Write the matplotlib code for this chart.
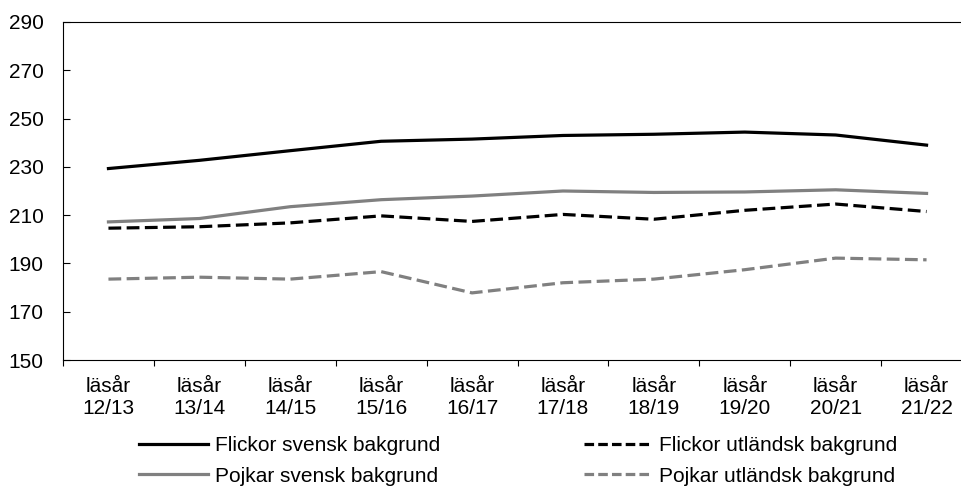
import numpy as np
import matplotlib
matplotlib.use("Agg")
import matplotlib.pyplot as plt

plt.rcParams['font.family'] = ['Liberation Sans', 'DejaVu Sans']

# läsår och medelvärden per grupp, avlästa ur originalbilden
lasar = ["läsår\n12/13", "läsår\n13/14", "läsår\n14/15", "läsår\n15/16", "läsår\n16/17",
         "läsår\n17/18", "läsår\n18/19", "läsår\n19/20", "läsår\n20/21", "läsår\n21/22"]
flickor_svensk = [229.3, 232.7, 236.7, 240.6, 241.5, 243.0, 243.5, 244.4, 243.2, 239.0]
flickor_utl = [204.6, 205.2, 206.8, 209.7, 207.4, 210.3, 208.3, 212.0, 214.6, 211.5]
pojkar_svensk = [207.2, 208.6, 213.5, 216.4, 217.9, 220.0, 219.4, 219.6, 220.5, 219.0]
pojkar_utl = [183.5, 184.3, 183.5, 186.6, 177.8, 182.0, 183.5, 187.4, 192.2, 191.5]

gra = '#808080'
x = np.arange(len(lasar))

fig = plt.figure(figsize=(9.61, 4.86), dpi=100)
ax = fig.add_axes([63 / 961, 1 - 360 / 486, 909 / 961, 338 / 486])

l1, = ax.plot(x, flickor_svensk, color='black', lw=2.3, label='Flickor svensk bakgrund')
l2, = ax.plot(x, flickor_utl, color='black', lw=2.3, dashes=(4, 1.7), label='Flickor utländsk bakgrund')
l3, = ax.plot(x, pojkar_svensk, color=gra, lw=2.3, label='Pojkar svensk bakgrund')
l4, = ax.plot(x, pojkar_utl, color=gra, lw=2.3, dashes=(4, 1.7), label='Pojkar utländsk bakgrund')

ax.set_xlim(-0.5, len(lasar) - 0.5)
ax.set_ylim(150, 290)
ax.set_yticks(range(150, 291, 20))

# streck mellan kategorierna, etiketter i mitten
ax.set_xticks(np.arange(-0.5, len(lasar), 1))
ax.set_xticklabels([])
ax.set_xticks(x, minor=True)
ax.set_xticklabels(lasar, minor=True)
ax.tick_params(axis='x', which='major', direction='out', length=4.5, width=0.8)
ax.tick_params(axis='x', which='minor', length=0, pad=12, labelsize=15)
ax.tick_params(axis='y', direction='in', length=5, width=0.8, pad=14, labelsize=15)

for s in ax.spines.values():
    s.set_linewidth(0.8)

leg = fig.legend(handles=[l1, l3, l2, l4], ncol=2, loc='center left',
                 bbox_to_anchor=(139 / 961, 1 - 461 / 486), frameon=False, fontsize=15,
                 handlelength=3.3, handletextpad=0.33, columnspacing=6.9,
                 labelspacing=0.54, borderpad=0, borderaxespad=0)
# kortare streck i förklaringen
for ln in leg.get_lines():
    if ln.get_linestyle() != '-':
        ln.set_dashes((3.0, 1.3))

fig.savefig("out.png", dpi=100)
